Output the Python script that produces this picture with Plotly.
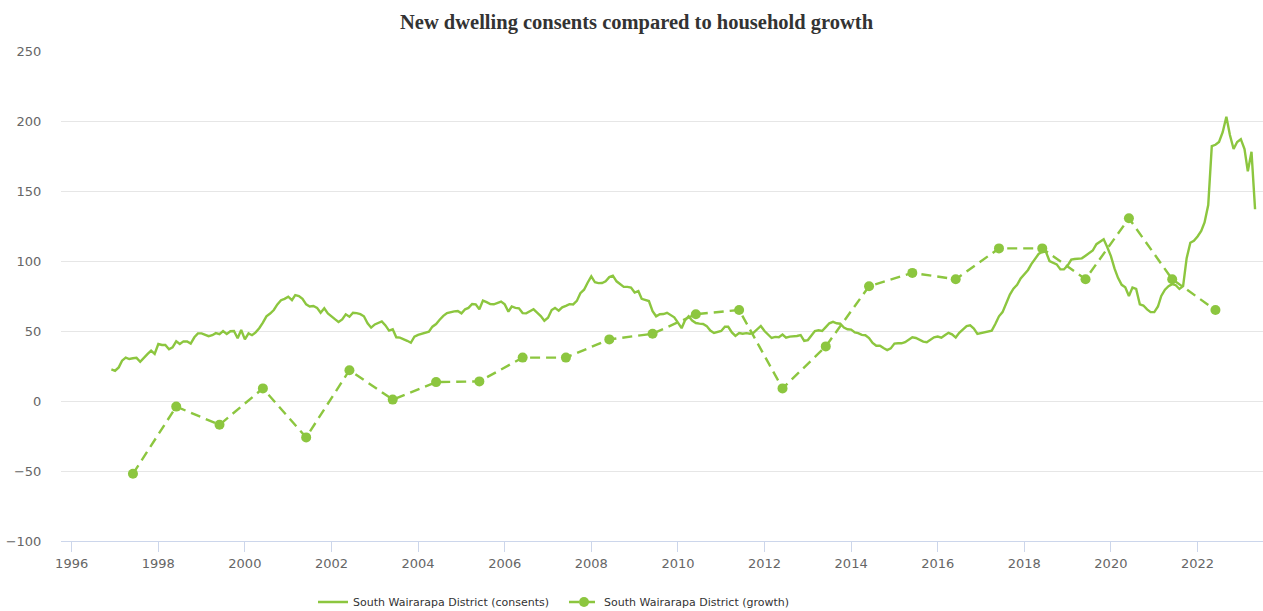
import plotly.graph_objects as go
import pandas as pd

# Monthly new dwelling consents (annual rolling), starting Dec 1996
consents_start = "1996-12-01"
consents = [
    22.6, 21.6, 24, 28.8, 31, 30, 30.5, 30.8, 28, 31, 33.5, 36,
    33.6, 40.7, 40, 40, 37, 38.3, 42.6, 40.7, 42.6, 42.5, 41, 45.5,
    48.3, 48.3, 47.3, 46.3, 47, 48.5, 47.8, 50, 47.9, 49.8, 50, 44.8,
    50.7, 44, 48.3, 47, 49, 52, 56, 60.5, 62.5, 65, 69, 72,
    73, 74.5, 72.1, 75.7, 75, 73, 69, 67.5, 67.9, 66.5, 63, 66.2,
    62.6, 60.2, 58.3, 56.5, 58.3, 61.9, 60.2, 63, 62.8, 62, 60.5, 55.5,
    52.4, 54.7, 56, 56.8, 54, 50.3, 51.2, 45.5, 45.3, 44.3, 43, 41.6,
    45.9, 47.2, 48, 49, 49.5, 53.1, 55, 58, 60.8, 62.8, 63.6, 64,
    64.3, 62.6, 65.5, 66.5, 69.3, 69, 65.5, 71.7, 70.6, 69.2, 69.1, 70,
    71, 69, 63.8, 67.5, 66.5, 66.2, 62.8, 62.6, 64, 65.5, 63.2, 60.7,
    57.3, 59.5, 65, 66.5, 64.5, 66.9, 68, 69.2, 69, 71.5, 77, 79.5,
    84.5, 89, 84.8, 84.2, 84.3, 85.5, 88.5, 89.5, 85.5, 83.5, 81.5, 81.5,
    81, 77.5, 78.5, 73, 72, 71.4, 64.2, 60.5, 62, 62.1, 63, 61.4,
    59.8, 56, 52, 57.5, 60.5, 57.5, 55.7, 55.3, 55, 53.5, 50.3, 48.6,
    49.5,
    50, 53, 53, 49, 46.5, 48.5, 48, 48.5, 48, 48.8, 51.2, 53.6,
    50, 47.1, 45, 45.8, 45.5, 47.5, 45.2, 46, 46, 46.4, 47, 43,
    43.5, 46.5, 50, 50.5, 50, 52.8, 55.5, 56.5, 55.5, 55.2, 52.5, 51.2,
    51, 49, 48.5, 47.2, 47, 45, 41.5, 39.5, 39.5, 37.8, 36.4, 37.6,
    41, 41.2, 41.2, 42, 44, 45.5, 45, 43.5, 42.4, 42, 43.5, 45.5,
    46, 45.2, 47, 48.7, 47.6, 45.3, 48.7, 51, 53.5, 54, 51.8, 48,
    48.5, 49.3, 49.8, 50.3, 55, 60.5, 63.5, 69.5, 76, 80.2, 83, 87.6,
    90.3, 93.6, 97.8, 101.8, 105, 106.6, 106.8, 100, 98.5, 97.6, 94, 94,
    96.7, 101, 101.4, 101.9, 101.9, 103.8, 105.5, 107.5, 112, 114, 115.5, 110,
    103.5, 94.5, 88, 83, 81.3, 75, 81, 80, 69, 68.2, 65.4, 63.5,
    63.5, 67.5, 75, 79.5, 82, 83.5, 82.7, 80, 82, 102, 113, 114.4,
    117.5, 121.5, 127.5, 140, 182, 183, 185, 192, 203, 190, 180, 185,
    187, 180, 164, 178, 137,
]
consents_dates = pd.date_range(consents_start, periods=len(consents), freq="MS")

# Annual household growth
growth_years = list(range(1997, 2023))
growth = [-52, -4, -17, 9, -26, 22, 1, 13.5, 14, 31, 31, 44, 48, 62, 65,
          9, 39, 82, 91.5, 87, 109, 109, 87, 130.5, 87, 65]
growth_dates = [f"{y}-06-01" for y in growth_years]

title_text = "New dwelling consents compared to household growth"
name_consents = "South Wairarapa District (consents)"
name_growth = "South Wairarapa District (growth)"

green = "#8cc63f"
tick_font = dict(family="DejaVu Sans", size=13, color="#666666")
legend_font = dict(family="DejaVu Sans", size=11, color="#333333")

fig = go.Figure()
fig.add_trace(go.Scatter(
    x=consents_dates, y=consents, mode="lines", name=name_consents,
    line=dict(color=green, width=2.4), legend="legend",
))
fig.add_trace(go.Scatter(
    x=growth_dates, y=growth, mode="lines+markers", name=name_growth,
    line=dict(color=green, width=2.4, dash="10px,6px"),
    marker=dict(color=green, size=10), legend="legend2",
))

fig.update_layout(
    width=1263, height=611,
    margin=dict(l=61, r=0, t=51, b=70),
    paper_bgcolor="white", plot_bgcolor="white",
    title=dict(text=f"<b>{title_text}</b>", x=0.504, xref="container", xanchor="center",
               y=1 - 22 / 611, yref="container", yanchor="middle",
               font=dict(family="Liberation Serif", size=20.5, color="#333333")),
    legend=dict(orientation="h", xref="container", yref="container",
                x=313 / 1263, xanchor="left", y=1 - 602 / 611, yanchor="middle",
                font=legend_font, bgcolor="rgba(0,0,0,0)"),
    legend2=dict(orientation="h", xref="container", yref="container",
                 x=564 / 1263, xanchor="left", y=1 - 602 / 611, yanchor="middle",
                 font=legend_font, bgcolor="rgba(0,0,0,0)"),
    showlegend=True,
)
fig.update_xaxes(
    type="date", range=["1995-10-03", "2023-07-07"],
    showgrid=False, showline=True, linecolor="#ccd6eb", linewidth=1,
    ticks="outside", ticklen=10, tickcolor="#ccd6eb", tickwidth=1,
    tick0="1996-01-01", dtick="M24", tickformat="%Y", tickfont=tick_font,
    zeroline=False,
)
fig.update_yaxes(
    range=[-100, 250], dtick=50, tick0=0, showgrid=True, gridcolor="#e6e6e6",
    gridwidth=1, zeroline=False, showline=False, ticks="outside", ticklen=16,
    tickcolor="rgba(0,0,0,0)", tickfont=tick_font,
)

fig.write_html("out.html", config={"displayModeBar": False},
               post_script="document.body.style.margin='0';")
